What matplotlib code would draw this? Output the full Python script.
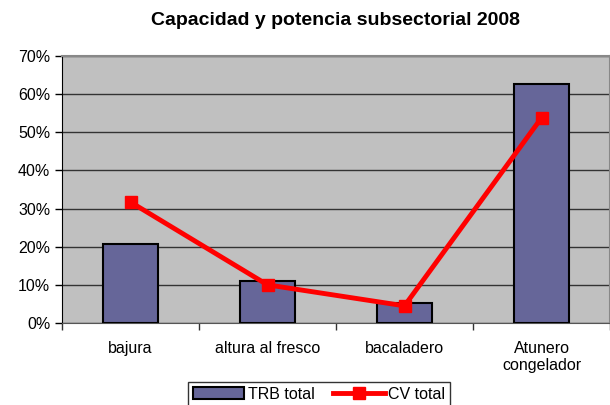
import matplotlib.pyplot as plt
from matplotlib.ticker import PercentFormatter
import numpy as np

plt.rcParams['font.family'] = ['Liberation Sans', 'DejaVu Sans']

categories = ['bajura', 'altura al fresco', 'bacaladero', 'Atunero\ncongelador']
trb_total = [20.7, 11.0, 5.2, 62.7]
cv_total = [31.7, 10.0, 4.5, 53.8]

fig = plt.figure(figsize=(6.1, 4.05), dpi=100)
ax = fig.add_axes([62 / 610, 1 - 323 / 405, 548 / 610, 267 / 405])

x = np.arange(len(categories))
ax.set_facecolor('#c0c0c0')
bars = ax.bar(x, trb_total, width=0.4, color='#666699', edgecolor='black', linewidth=1.5,
              label='TRB total', zorder=3)
line, = ax.plot(x, cv_total, color='#ff0000', linewidth=3.5, marker='s', markersize=9,
                label='CV total', zorder=4)

ax.set_xlim(-0.5, len(categories) - 0.5)
ax.set_ylim(0, 70)
ax.set_yticks(np.arange(0, 71, 10))
ax.yaxis.set_major_formatter(PercentFormatter(decimals=0))
ax.yaxis.grid(True, color='#333333', linewidth=1, zorder=0)
ax.set_axisbelow(True)

ax.set_xticks(x)
ax.set_xticklabels(categories, fontsize=11.5)
ax.set_xticks(np.arange(-0.5, len(categories), 1), minor=True)
ax.tick_params(axis='x', which='major', length=0, pad=13)
ax.tick_params(axis='x', which='minor', length=5, width=1, color='#333333')
ax.tick_params(axis='y', labelsize=11.5, length=5, width=1, direction='out')

for side in ['top', 'right']:
    ax.spines[side].set_color('#888888')
    ax.spines[side].set_linewidth(1.5)
ax.spines['left'].set_color('black')
ax.spines['bottom'].set_color('#555555')

fig.text(0.55, 0.95, 'Capacidad y potencia subsectorial 2008', ha='center', va='center',
         fontsize=14, fontweight='bold')

leg = ax.legend([bars, line], ['TRB total', 'CV total'],
                loc='upper center', bbox_to_anchor=((319 - 62) / 548, -0.19),
                ncol=2, frameon=True, fancybox=False, edgecolor='black', fontsize=11.5,
                handlelength=3.2, borderpad=0.3, columnspacing=1.2, handletextpad=0.2)
leg.get_frame().set_linewidth(1)

fig.savefig('out.png', dpi=100)
